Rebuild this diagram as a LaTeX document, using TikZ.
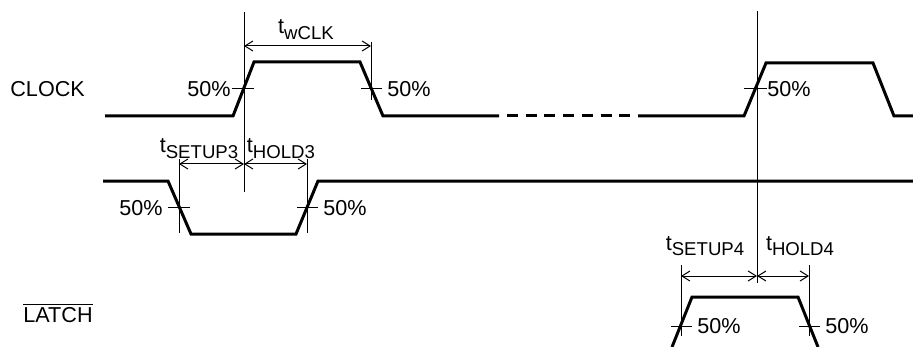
\documentclass[tikz,border=0pt]{standalone}
\usepackage{fontspec}
\setmainfont{Liberation Sans}
\usetikzlibrary{arrows.meta}
\newcommand{\tsub}[1]{t\raisebox{-0.45ex}{\fontsize{9.3}{9}\selectfont #1}}

\begin{document}
\begin{tikzpicture}[x=0.5pt,y=-0.5pt]
	\tikzstyle{every node}=[font=\fontsize{10.8}{12}\selectfont, inner sep=0pt]
	\tikzstyle{signal}=[line width=1.5pt, line join=miter]
	\tikzstyle{guide}=[line width=0.5pt]
	\tikzstyle{dimline}=[line width=0.5pt, {Straight Barb[length=4pt,width=5pt]}-{Straight Barb[length=4pt,width=5pt]}]
	\useasboundingbox (0,0) rectangle (913,347);
	% signal names
	\node [anchor=base west] (clock) at (10,97) {CLOCK};
	\node [anchor=base west] (latch) at (23,322) {$\overline{\mbox{LATCH}}$};
	% waveforms
	\draw [signal] (105,116) -- (233,116) -- (254,62) -- (360,62) -- (383,116) -- (499,116);
	\draw [signal, dash pattern=on 5.5pt off 3.85pt] (507,116) -- (631,116);
	\draw [signal] (638,116) -- (744,116) -- (766,63) -- (873,63) -- (894,116) -- (913,116);
	\draw [signal] (103,181) -- (168,181) -- (191,234) -- (296,234) -- (318,181) -- (913,181);
	\draw [signal] (672,347) -- (692,297) -- (798,297) -- (818,347);
	% reference lines
	\coordinate (r1t) at (244,12);  \coordinate (r1b) at (244,192);
	\coordinate (r2t) at (371,42);  \coordinate (r2b) at (371,100);
	\coordinate (r3t) at (179,159); \coordinate (r3b) at (179,233);
	\coordinate (r4t) at (307,159); \coordinate (r4b) at (307,233);
	\coordinate (r5t) at (757,11);  \coordinate (r5b) at (757,283);
	\coordinate (r6t) at (681,265); \coordinate (r6b) at (681,336);
	\coordinate (r7t) at (809,265); \coordinate (r7b) at (809,336);
	\foreach \r in {1,...,7}
		\draw [guide] (r\r t) -- (r\r b);
	% 50% ticks
	\draw [guide] (232,89) -- (254,89);
	\draw [guide] (361,89) -- (382,89);
	\draw [guide] (744,89) -- (767,89);
	\draw [guide] (168,207) -- (190,207);
	\draw [guide] (297,207) -- (318,207);
	\draw [guide] (671,326) -- (692,326);
	\draw [guide] (799,326) -- (820,326);
	\node [anchor=base east] (p1) at (231,97) {50\%};
	\node [anchor=base west] (p2) at (387,97) {50\%};
	\node [anchor=base west] (p3) at (767,97) {50\%};
	\node [anchor=base east] (p4) at (163,215) {50\%};
	\node [anchor=base west] (p5) at (323,215) {50\%};
	\node [anchor=base west] (p6) at (697,333) {50\%};
	\node [anchor=base west] (p7) at (825,333) {50\%};
	% timing intervals
	\draw [dimline] (r1t |- 0,46) -- (r2t |- 0,46);
	\draw [dimline] (r3t |- 0,164) -- (r1t |- 0,164);
	\draw [dimline] (r1t |- 0,164) -- (r4t |- 0,164);
	\draw [dimline] (r6t |- 0,276) -- (r5t |- 0,276);
	\draw [dimline] (r5t |- 0,276) -- (r7t |- 0,276);
	\node [anchor=base] (twclk) at (306,34) {\tsub{wCLK}};
	\node [anchor=base] (tsu3) at (199,153) {\tsub{SETUP3}};
	\node [anchor=base] (tho3) at (281,153) {\tsub{HOLD3}};
	\node [anchor=base] (tsu4) at (705,250) {\tsub{SETUP4}};
	\node [anchor=base] (tho4) at (800,250) {\tsub{HOLD4}};
\end{tikzpicture}
\end{document}
